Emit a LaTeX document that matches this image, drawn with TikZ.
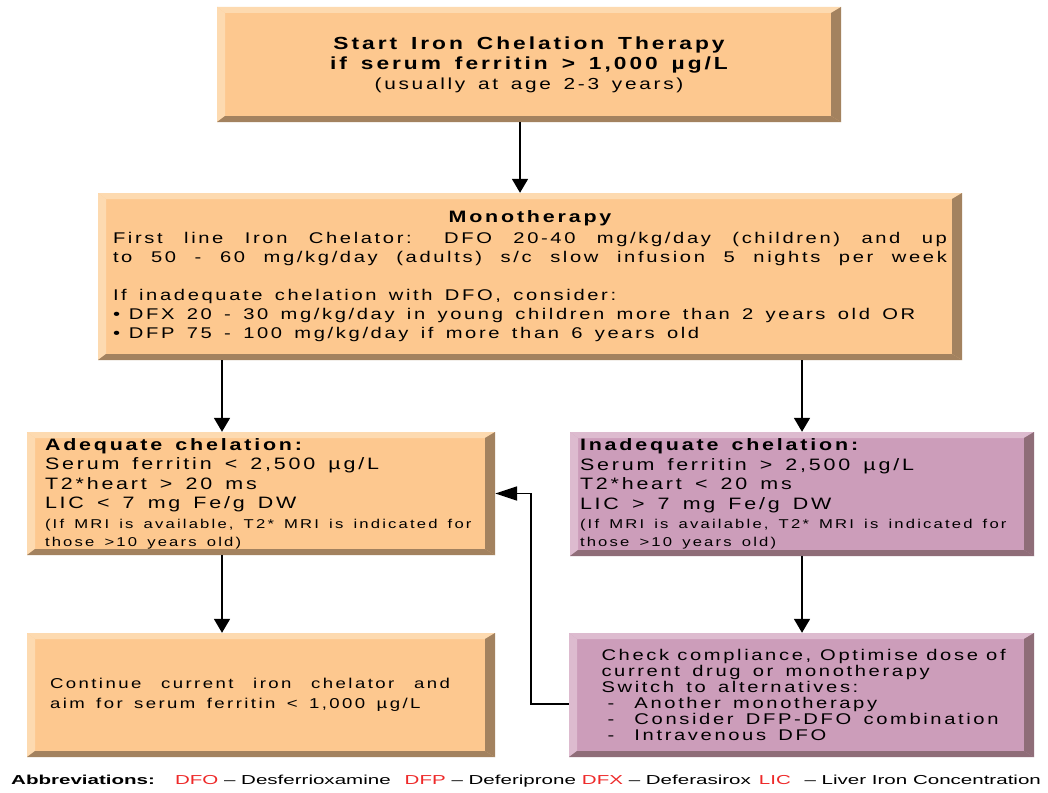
\documentclass[tikz,border=0pt]{standalone}
\usepackage{fontspec}
\setmainfont{Liberation Sans}[FakeStretch=1.3, WordSpace=2.2]
\newfontfamily\abbrfont{Liberation Sans}[FakeStretch=1.58]
\usetikzlibrary{arrows.meta}
\setlength\parindent{0pt}
\XeTeXinterchartokenstate=1
\newcount\ccnt
\ccnt=33
\loop\ifnum\ccnt<127 \XeTeXcharclass\ccnt=1 \advance\ccnt by 1 \repeat
\XeTeXcharclass"00B5=1
\XeTeXcharclass"2022=1
\XeTeXinterchartoks 1 1 = {\kern0.17em}
\newcommand\nols{\XeTeXinterchartokenstate=0\relax}
\newcommand\fixsp{\spaceskip=0pt\xspaceskip=0pt\relax}
\newcommand\jline[2]{\leavevmode\hbox to #1{#2}}
\definecolor{peach}{HTML}{FDC88F}
\definecolor{peachlt}{HTML}{FDDAB0}
\definecolor{peachdk}{HTML}{A3825F}
\definecolor{pinkf}{HTML}{CC9DBA}
\definecolor{pinklt}{HTML}{DDBBCF}
\definecolor{pinkdk}{HTML}{8F6D78}
\definecolor{abbrred}{HTML}{EE2A2A}
\tikzset{
  bevel/.style n args={3}{rectangle, inner sep=0pt, fill=#1,
    path picture={
      \fill[#2] (path picture bounding box.north west) -- (path picture bounding box.north east)
        -- ([xshift=-10pt,yshift=-6pt]path picture bounding box.north east)
        -- ([xshift=8pt,yshift=-6pt]path picture bounding box.north west) -- cycle;
      \fill[#2] (path picture bounding box.north west) -- (path picture bounding box.south west)
        -- ([xshift=8pt,yshift=6pt]path picture bounding box.south west)
        -- ([xshift=8pt,yshift=-6pt]path picture bounding box.north west) -- cycle;
      \fill[#3] (path picture bounding box.north east) -- (path picture bounding box.south east)
        -- ([xshift=-10pt,yshift=6pt]path picture bounding box.south east)
        -- ([xshift=-10pt,yshift=-6pt]path picture bounding box.north east) -- cycle;
      \fill[#3] (path picture bounding box.south west) -- (path picture bounding box.south east)
        -- ([xshift=-10pt,yshift=6pt]path picture bounding box.south east)
        -- ([xshift=8pt,yshift=6pt]path picture bounding box.south west) -- cycle;
    }},
  peachbox/.style={bevel={peach}{peachlt}{peachdk}},
  pinkbox/.style={bevel={pinkf}{pinklt}{pinkdk}},
  arr/.style={line width=1.8pt, -{Triangle[length=14pt,width=16pt]}},
  backarr/.style={line width=1.8pt, -{Triangle[length=22pt,width=14pt]}},
}
\begin{document}
\begin{tikzpicture}[x=1pt,y=-1pt]
\useasboundingbox[fill=white] (0,0) rectangle (1048,792);

\node[peachbox, minimum width=624pt, minimum height=115pt, align=center,
  font=\fontsize{17.5}{20}\selectfont] (top) at (529,64.5)
  {\bfseries Start Iron Chelation Therapy\\
   \bfseries if serum ferritin > 1,000 µg/L\\
   \fontsize{16}{20}\selectfont\mdseries (usually at age 2-3 years)};

\node[peachbox, minimum width=864pt, minimum height=167pt, text width=834pt, align=left,
  font=\fontsize{15.5}{19}\selectfont] (mono) at (530,276.5)
  {\fixsp\jline{834pt}{\hfil\bfseries\fontsize{16.5}{19}\selectfont Monotherapy\hfil}\\[2pt]
   \jline{834pt}{First line Iron Chelator: DFO 20-40 mg/kg/day (children) and up}\\
   \jline{834pt}{to 50 - 60 mg/kg/day (adults) s/c slow infusion 5 nights per week}\\[19pt]
   If inadequate chelation with DFO, consider:\\
   \makebox[16pt][l]{\textbullet}DFX 20 - 30 mg/kg/day in young children more than 2 years old OR\\
   \makebox[16pt][l]{\textbullet}DFP 75 - 100 mg/kg/day if more than 6 years old};

\node[peachbox, minimum width=468pt, minimum height=123pt, text width=432pt, align=left,
  font=\fontsize{16.5}{19.5}\selectfont] (adeq) at (261,493.5)
  {\fixsp\textbf{Adequate chelation:}\\
   Serum ferritin < 2,500 µg/L\\
   T2*heart > 20 ms\\
   LIC < 7 mg Fe/g DW\\
   \fontsize{12.8}{19.5}\selectfont\fixsp (If MRI is available, T2* MRI is indicated for\\[-1.5pt]
   those >10 years old)};

\node[pinkbox, minimum width=464pt, minimum height=124pt, text width=444pt, align=left,
  font=\fontsize{16.5}{19.5}\selectfont] (inad) at (802,494)
  {\fixsp\textbf{Inadequate chelation:}\\
   Serum ferritin > 2,500 µg/L\\
   T2*heart < 20 ms\\
   LIC > 7 mg Fe/g DW\\
   \fontsize{12.8}{19.5}\selectfont\fixsp (If MRI is available, T2* MRI is indicated for\\[-1.5pt]
   those >10 years old)};

\node[peachbox, minimum width=468pt, minimum height=124pt, text width=422pt, align=left,
  font=\fontsize{14.3}{20}\selectfont] (cont) at (261,695)
  {\fixsp\jline{400pt}{Continue current iron chelator and}\\
   aim for serum ferritin < 1,000 µg/L};

\node[pinkbox, minimum width=465pt, minimum height=124pt, text width=400pt, align=left,
  font=\fontsize{15.5}{16}\selectfont] (check) at (801.5,695)
  {\fixsp\jline{400pt}{Check compliance, Optimise dose of}\\
   current drug or monotherapy\\
   Switch to alternatives:\\
   \makebox[33pt][l]{\hspace{6pt}-}Another monotherapy\\
   \makebox[33pt][l]{\hspace{6pt}-}Consider DFP-DFO combination\\
   \makebox[33pt][l]{\hspace{6pt}-}Intravenous DFO};

\node[font=\nols\abbrfont\fontsize{13}{15}\selectfont, inner sep=0pt, anchor=west] (abbr) at (11,781)
  {\textbf{Abbreviations:}\hspace{20pt}\textcolor{abbrred}{DFO} – Desferrioxamine\hspace{14pt}\textcolor{abbrred}{DFP} – Deferiprone\hspace{6pt}\textcolor{abbrred}{DFX} – Deferasirox\hspace{8pt}\textcolor{abbrred}{LIC}\hspace{8pt} – Liver Iron Concentration};

\draw[arr] ([xshift=-9pt]top.south) -- ([xshift=-9pt]top.south |- mono.north);
\draw[arr] ([xshift=-39pt]adeq.north |- mono.south) -- ([xshift=-39pt]adeq.north);
\draw[arr] (inad.north |- mono.south) -- (inad.north);
\draw[arr] ([xshift=-39pt]adeq.south) -- ([xshift=-39pt]cont.north);
\draw[arr] (inad.south) -- (inad.south |- check.north);
\draw[backarr] ([yshift=-9pt]check.west) -| ([xshift=36pt]adeq.east) -- (adeq.east);
\end{tikzpicture}
\end{document}
